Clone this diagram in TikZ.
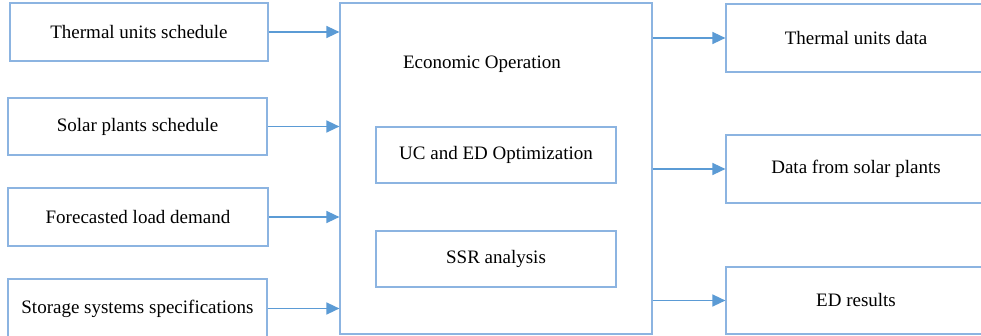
\documentclass[tikz,border=0pt]{standalone}
\usepackage{fontspec}
\setmainfont{Liberation Serif}
\usetikzlibrary{arrows.meta}

\begin{document}
\begin{tikzpicture}[x=1pt,y=-1pt]
  % Colors
  \definecolor{boxcolor}{RGB}{140,180,225}
  \definecolor{arrowcolor}{RGB}{91,155,213}

  % Styles
  \tikzstyle{block}=[draw=boxcolor,line width=1.2pt,fill=white,inner sep=0pt,
                     font=\fontsize{19}{22}\selectfont]
  \tikzstyle{flow}=[draw=arrowcolor,line width=1.5pt,
                    -{Triangle[length=13pt,width=12pt]}]

  % The graphic
  \clip (0,0) rectangle (981,336);
  \fill[white] (0,0) rectangle (981,336);

  % Main block
  \node[block,minimum width=312pt,minimum height=331pt] (main) at (496,168.5) {};
  \node[font=\fontsize{19}{22}\selectfont] (ecoop) at (482,64) {Economic Operation};
  \node[block,minimum width=240pt,minimum height=56pt] (ucd) at (496,155)
    {UC and ED Optimization};
  \node[block,minimum width=240pt,minimum height=56pt] (ssr) at (496,259)
    {SSR analysis};

  % Inputs
  \node[block,minimum width=258pt,minimum height=58pt] (thsched) at (139,32)
    {Thermal units schedule};
  \node[block,minimum width=259pt,minimum height=57pt] (solsched) at (137.5,126.5)
    {Solar plants schedule};
  \node[block,minimum width=260pt,minimum height=58pt] (load) at (138,217)
    {Forecasted load demand};
  \node[block,minimum width=259pt,minimum height=59pt] (storage) at (137.5,308.5)
    {Storage systems specifications};

  % Outputs
  \node[block,minimum width=260pt,minimum height=68pt] (thdata) at (856,38)
    {Thermal units data};
  \node[block,minimum width=260pt,minimum height=68pt] (soldata) at (856,169)
    {Data from solar plants};
  \node[block,minimum width=260pt,minimum height=67pt] (edres) at (856,300.5)
    {ED results};

  \foreach \src in {thsched,solsched,load,storage}
    \draw[flow] (\src.east) -- (\src.east -| main.west);

  \foreach \dst in {thdata,soldata,edres}
    \draw[flow] (\dst.west -| main.east) -- (\dst.west);
\end{tikzpicture}
\end{document}
